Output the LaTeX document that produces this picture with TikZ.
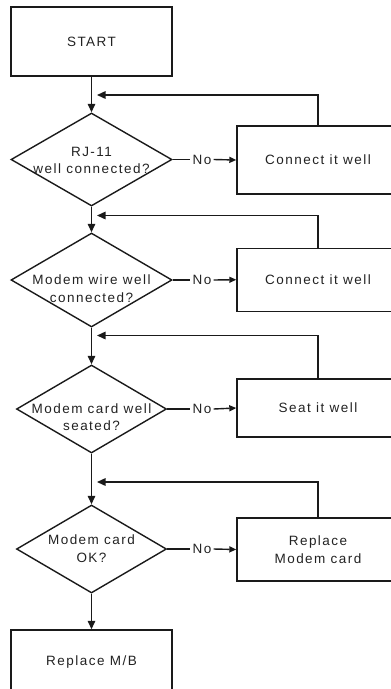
\documentclass[tikz,border=0pt]{standalone}
\usepackage{fontspec}
\newfontfamily\lblfont{Liberation Sans}[LetterSpace=11]
\usetikzlibrary{shapes.geometric,arrows.meta}
\definecolor{ln}{HTML}{1A1A1A}
\definecolor{txt}{HTML}{222222}
\tikzset{
  lbl/.style={font=\lblfont\fontsize{13.5pt}{17.5pt}\selectfont, text=txt, align=center, inner sep=1.5pt},
  box/.style={lbl, draw=ln, rectangle, inner sep=0pt, minimum width=161pt},
  rbox/.style={box, minimum width=162pt},
  dia/.style={draw=ln, diamond, inner sep=0pt},
  arr/.style={draw=ln, -{Triangle[length=8.5pt,width=7.5pt]}},
  noarr/.style={draw=ln, -{Triangle[length=7pt,width=6pt]}},
  plain/.style={draw=ln}
}
\begin{document}
\begin{tikzpicture}[x=1pt,y=-1pt,line width=1.4pt]
\useasboundingbox (0,0) rectangle (391,689);
\clip (0,0) rectangle (391,689);
% start
\node[box, minimum height=69pt] (start) at (91.5,41.5) {START};
% decision 1
\node[dia, minimum width=161pt, minimum height=93pt] (d1) at (91.5,159.5) {};
\node[lbl, inner sep=0pt] (t1) at (91.5,160.5) {RJ-11\\well connected?};
\node[rbox, minimum height=68pt] (b1) at (318,160) {Connect it well};
\node[lbl] (n1) at (202,159.5) {No};
% decision 2
\node[dia, minimum width=161pt, minimum height=94pt] (d2) at (91.5,280) {};
\node[lbl, inner sep=0pt] (t2) at (91.5,288.5) {Modem wire well\\connected?};
\node[rbox, minimum height=63pt] (b2) at (318,279.7) {Connect it well};
\node[lbl] (n2) at (202,280) {No};
% decision 3
\node[dia, minimum width=150pt, minimum height=88pt] (d3) at (91.5,409) {};
\node[lbl, inner sep=0pt] (t3) at (91.5,417) {Modem card well\\seated?};
\node[rbox, minimum height=58pt] (b3) at (318,408) {Seat it well};
\node[lbl] (n3) at (202,409) {No};
% decision 4
\node[dia, minimum width=150pt, minimum height=88pt] (d4) at (91.5,549) {};
\node[lbl, inner sep=0pt] (t4) at (91.5,548.5) {Modem card\\OK?};
\node[rbox, minimum height=63pt] (b4) at (318,549.5) {Replace\\Modem card};
\node[lbl] (n4) at (202,549) {No};
% end
\node[box, minimum height=64pt] (mb) at (91.5,662) {Replace M/B};
% feedback targets
\coordinate (f1) at (97,95);
\coordinate (f2) at (97,215.5);
\coordinate (f3) at (97,335.5);
\coordinate (f4) at (97,482);
% main flow
\draw[arr] (start) -- (d1);
\draw[arr] (d1) -- (d2);
\draw[arr] (d2) -- (d3);
\draw[arr] (d3) -- (d4);
\draw[arr] (d4) -- (mb);
% no branches
\draw[plain] (d1.east) -- (n1.west);
\draw[noarr] (n1.east) -- (b1.west);
\draw[plain] (d2.east) -- (n2.west);
\draw[noarr] (n2.east) -- (b2.west);
\draw[plain] (d3.east) -- (n3.west);
\draw[noarr] (n3.east) -- (b3.west);
\draw[plain] (d4.east) -- (n4.west);
\draw[noarr] (n4.east) -- (b4.west);
% feedback loops
\draw[arr] (b1.north) |- (f1);
\draw[arr] (b2.north) |- (f2);
\draw[arr] (b3.north) |- (f3);
\draw[arr] (b4.north) |- (f4);
\end{tikzpicture}
\end{document}
